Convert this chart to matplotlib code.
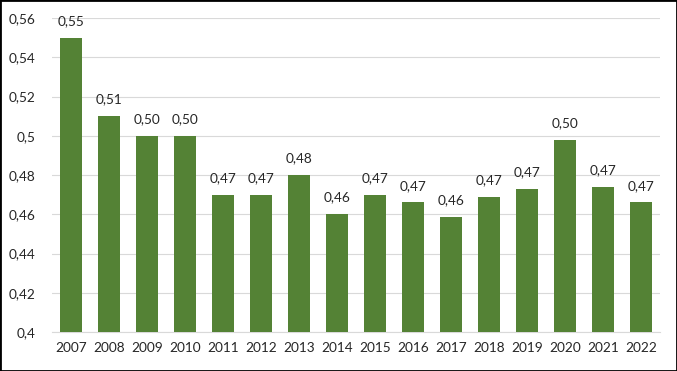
import matplotlib
matplotlib.use('Agg')
import matplotlib.pyplot as plt
import matplotlib.ticker as ticker
from matplotlib.patches import Rectangle

plt.rcParams['font.family'] = ['Lato', 'DejaVu Sans']

years = ['2007', '2008', '2009', '2010', '2011', '2012', '2013', '2014',
         '2015', '2016', '2017', '2018', '2019', '2020', '2021', '2022']
values = [0.55, 0.51, 0.50, 0.50, 0.47, 0.47, 0.48, 0.46,
          0.47, 0.466, 0.4585, 0.4687, 0.473, 0.498, 0.474, 0.466]

green = '#548235'
fs = 9.8

fig = plt.figure(figsize=(6.77, 3.71), dpi=100)
ax = fig.add_axes([52 / 677, 1 - 332 / 371, (660 - 52) / 677, (332 - 18) / 371])

x = range(len(years))
ax.bar(x, values, width=0.58, color=green, zorder=3)
for xi, v in zip(x, values):
    ax.text(xi, v + 0.0055, f'{v:.2f}'.replace('.', ','), ha='center', va='bottom',
            fontsize=fs, color='#262626')

ax.set_ylim(0.4, 0.56)
ax.set_xlim(-0.5, len(years) - 0.5)
ax.set_yticks([0.40, 0.42, 0.44, 0.46, 0.48, 0.50, 0.52, 0.54, 0.56])
ax.yaxis.set_major_formatter(ticker.FuncFormatter(
    lambda v, p: ('%g' % round(v, 2)).replace('.', ',')))
ax.set_xticks(list(x))
ax.set_xticklabels(years)
ax.tick_params(axis='both', length=0, labelsize=fs, colors='#262626')
ax.tick_params(axis='y', pad=12)
ax.tick_params(axis='x', pad=7)
ax.grid(axis='y', color='#d9d9d9', linewidth=0.8, zorder=0)
for s in ['top', 'right', 'left']:
    ax.spines[s].set_visible(False)
ax.spines['bottom'].set_color('#d9d9d9')

fig.patches.append(Rectangle((0, 0), 1, 1, transform=fig.transFigure, fill=False,
                             edgecolor='black', linewidth=2))

fig.savefig('out.png', dpi=100)
